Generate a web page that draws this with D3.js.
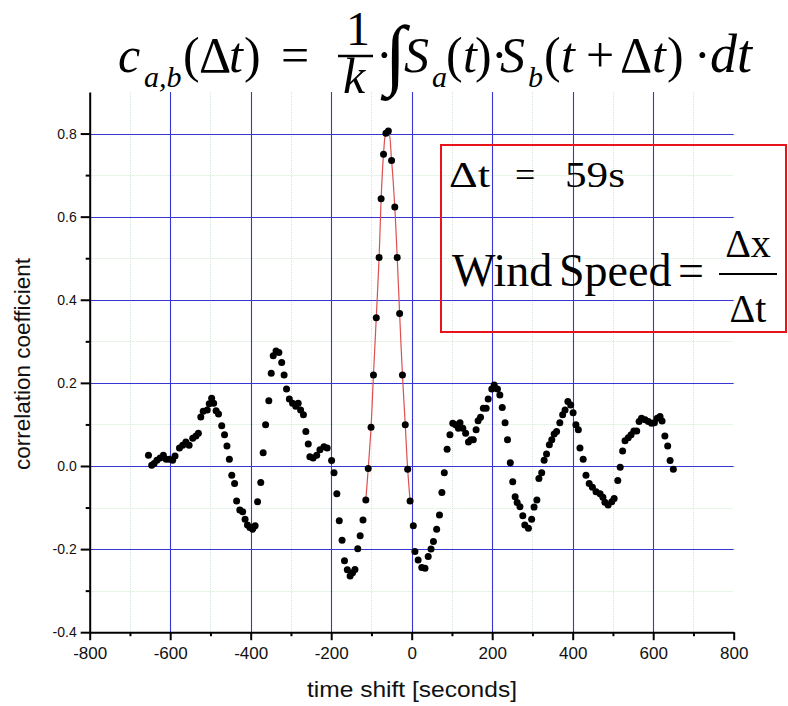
<!DOCTYPE html>
<html>
<head>
<meta charset="utf-8">
<script src="https://cdn.jsdelivr.net/npm/d3@7"></script>
<style>
  body { margin: 0; background: #fff; }
  svg { display: block; }
</style>
</head>
<body>
<div id="chart"></div>
<script>
// time shift [s] and correlation coefficient
const timeShift = [
  -654, -646, -640, -633, -625, -617, -610, -602, -594, -588,
  -577, -569, -561, -553, -544, -536, -530, -524, -518, -508,
  -503, -497, -492, -486, -480, -472, -465, -459, -453, -447,
  -440, -435, -427, -420, -414, -408, -402, -395, -389, -383,
  -375, -369, -363, -355, -349, -344, -337, -330, -323, -317,
  -311, -304, -296, -288, -282, -276, -269, -263, -257, -253,
  -245, -236, -228, -218, -210, -199, -193, -186, -180, -173,
  -167, -160, -153, -147, -141, -134, -128, -121, -114, -108,
  -101, -95, -88, -81, -76, -70, -64, -58, -50, -42,
  -36, -30, -23, -16, -10, -4, 4, 8, 16, 25,
  33, 41, 48, 54, 62, 69, 75, 81, 88, 95,
  102, 109, 116, 120, 127, 134, 141, 147, 153, 160,
  165, 171, 178, 185, 190, 199, 205, 213, 219, 225,
  232, 238, 245, 251, 257, 262, 269, 276, 281, 290,
  298, 304, 311, 316, 323, 329, 335, 342, 348, 354,
  360, 368, 375, 381, 388, 395, 401, 408, 414, 418,
  426, 433, 441, 449, 458, 468, 475, 480, 488, 497,
  503, 512, 518, 524, 530, 538, 545, 552, 559, 565,
  571, 580, 588, 596, 603, 610, 617, 622, 629, 636,
  642, 650
];
const correlation = [
  0.026, 0.002, 0.006, 0.014, 0.019, 0.026, 0.016, 0.016, 0.014, 0.024,
  0.043, 0.050, 0.058, 0.050, 0.067, 0.072, 0.079, 0.118, 0.132, 0.135,
  0.150, 0.163, 0.151, 0.133, 0.125, 0.097, 0.075, 0.048, 0.016, -0.022,
  -0.042, -0.084, -0.106, -0.110, -0.128, -0.142, -0.148, -0.152, -0.144, -0.086,
  -0.040, 0.032, 0.099, 0.157, 0.223, 0.265, 0.277, 0.273, 0.249, 0.219,
  0.185, 0.161, 0.151, 0.144, 0.151, 0.135, 0.123, 0.083, 0.053, 0.022,
  0.019, 0.026, 0.039, 0.046, 0.043, 0.013, -0.016, -0.067, -0.132, -0.179,
  -0.228, -0.250, -0.265, -0.257, -0.249, -0.199, -0.168, -0.130, -0.082, -0.006,
  0.093, 0.219, 0.357, 0.502, 0.643, 0.750, 0.801, 0.806, 0.735, 0.623,
  0.502, 0.367, 0.219, 0.099, -0.008, -0.084, -0.144, -0.206, -0.226, -0.244,
  -0.246, -0.218, -0.200, -0.182, -0.152, -0.118, -0.064, -0.016, 0.040, 0.075,
  0.103, 0.099, 0.091, 0.104, 0.091, 0.079, 0.058, 0.063, 0.063, 0.087,
  0.109, 0.117, 0.139, 0.139, 0.161, 0.185, 0.195, 0.185, 0.171, 0.141,
  0.104, 0.063, 0.008, -0.038, -0.074, -0.088, -0.098, -0.120, -0.142, -0.150,
  -0.128, -0.099, -0.082, -0.030, -0.016, 0.014, 0.029, 0.051, 0.063, 0.077,
  0.083, 0.104, 0.123, 0.135, 0.155, 0.147, 0.128, 0.099, 0.087, 0.043,
  0.016, -0.022, -0.042, -0.051, -0.062, -0.067, -0.075, -0.087, -0.094, -0.086,
  -0.078, -0.035, -0.003, 0.036, 0.061, 0.068, 0.075, 0.084, 0.084, 0.107,
  0.115, 0.111, 0.107, 0.103, 0.104, 0.115, 0.119, 0.108, 0.072, 0.048,
  0.013, -0.008
];
// the red fitted peak runs over these time shifts
const fitRange = [-114, -4];

const xMajor = [-800, -600, -400, -200, 0, 200, 400, 600, 800];
const xMinor = [-700, -500, -300, -100, 100, 300, 500, 700];
const yMajor = [-0.4, -0.2, 0.0, 0.2, 0.4, 0.6, 0.8];
const yMinor = [-0.3, -0.1, 0.1, 0.3, 0.5, 0.7];

const lagValue = "59s";

const W = 788, H = 706;
const svg = d3.select("#chart").append("svg")
  .attr("width", W).attr("height", H)
  .style("font-family", "'Liberation Sans', Arial, sans-serif");

const x = d3.scaleLinear().domain([-800, 800]).range([89.7, 733.7]);
const y = d3.scaleLinear().domain([-0.4, 0.9]).range([632.2, 92]);
const crisp = v => Math.round(v) + 0.5;

const data = timeShift.map((t, i) => ({ t: t, c: correlation[i] }));

// faint minor grid
svg.append("g").selectAll("line").data(xMinor).join("line")
  .attr("x1", d => crisp(x(d))).attr("x2", d => crisp(x(d)))
  .attr("y1", y(0.9)).attr("y2", y(-0.4))
  .attr("stroke", "#d6e6d6").attr("stroke-dasharray", "1,1");
svg.append("g").selectAll("line").data(yMinor).join("line")
  .attr("x1", x(-800)).attr("x2", x(800))
  .attr("y1", d => crisp(y(d))).attr("y2", d => crisp(y(d)))
  .attr("stroke", "#d6e6d6").attr("stroke-dasharray", "1,1");

// blue major grid
svg.append("g").selectAll("line").data(xMajor.filter(d => d > -800 && d < 800)).join("line")
  .attr("x1", d => crisp(x(d))).attr("x2", d => crisp(x(d)))
  .attr("y1", y(0.9)).attr("y2", y(-0.4))
  .attr("stroke", "#3636d4").attr("stroke-width", 1.1);
svg.append("g").selectAll("line").data(yMajor.filter(d => d > -0.4)).join("line")
  .attr("x1", x(-800)).attr("x2", x(800))
  .attr("y1", d => crisp(y(d))).attr("y2", d => crisp(y(d)))
  .attr("stroke", "#3636d4").attr("stroke-width", 1.1);

// axes
const xAxis = svg.append("g")
  .attr("transform", "translate(0," + y(-0.4) + ")")
  .call(d3.axisBottom(x).tickValues(xMajor).tickSize(8).tickSizeOuter(0).tickPadding(7)
    .tickFormat(d => String(d)));
xAxis.append("g")
  .call(d3.axisBottom(x).tickValues(xMinor).tickSize(4).tickFormat(""))
  .select(".domain").remove();

const yAxis = svg.append("g")
  .attr("transform", "translate(" + x(-800) + ",0)")
  .call(d3.axisLeft(y).tickValues(yMajor).tickSize(9).tickSizeOuter(0).tickPadding(4)
    .tickFormat(d => d.toFixed(1)));
yAxis.append("g")
  .call(d3.axisLeft(y).tickValues(yMinor).tickSize(4).tickFormat(""))
  .select(".domain").remove();

svg.selectAll(".domain").attr("stroke", "#000").attr("stroke-width", 2);
svg.selectAll(".tick line").attr("stroke", "#000").attr("stroke-width", 2);
xAxis.selectAll("text").style("font-size", "17px").attr("fill", "#111")
  .attr("font-family", "'Liberation Sans', Arial, sans-serif");
yAxis.selectAll("text").style("font-size", "14px").attr("fill", "#111")
  .attr("font-family", "'Liberation Sans', Arial, sans-serif");

// axis titles
svg.append("text")
  .attr("x", 412).attr("y", 697)
  .attr("text-anchor", "middle")
  .attr("font-size", 22).attr("fill", "#111")
  .attr("textLength", 210).attr("lengthAdjust", "spacingAndGlyphs")
  .text("time shift [seconds]");
svg.append("text")
  .attr("transform", "translate(30,364) rotate(-90)")
  .attr("text-anchor", "middle")
  .attr("font-size", 22).attr("fill", "#111")
  .attr("textLength", 212).attr("lengthAdjust", "spacingAndGlyphs")
  .text("correlation coefficient");

// red fitted curve over the peak
const fitData = data.filter(d => d.t >= fitRange[0] && d.t <= fitRange[1]);
svg.append("path")
  .datum(fitData)
  .attr("fill", "none")
  .attr("stroke", "#dc5050")
  .attr("stroke-width", 1.2)
  .attr("d", d3.line().x(d => x(d.t)).y(d => y(d.c)).curve(d3.curveCatmullRom.alpha(0.5)));

// data points
svg.append("g").selectAll("circle").data(data).join("circle")
  .attr("cx", d => x(d.t)).attr("cy", d => y(d.c))
  .attr("r", 3.5).attr("fill", "#000");

// formula at the top
const serif = "'Liberation Serif', 'Times New Roman', serif";
const formula = svg.append("g").attr("font-family", serif).attr("fill", "#000");
// [text, x, baseline, size, italic]
const parts = [
  ["c", 118, 72, 50, 1], ["a,b", 144, 87, 30, 1],
  ["(", 183, 72, 50, 0], ["\u0394", 199, 72, 50, 0], ["t", 229, 72, 50, 1], [")", 244, 72, 50, 0],
  ["=", 281, 72, 50, 0],
  ["1", 346, 45, 48, 0], ["k", 343, 93, 50, 1],
  ["\u00b7", 376, 72, 50, 0], ["\u222b", 385, 80, 78, 0],
  ["S", 404, 72, 50, 1], ["a", 432, 87, 30, 1],
  ["(", 446, 72, 50, 0], ["t", 463, 72, 50, 1], [")", 475, 72, 50, 0],
  ["\u00b7", 491, 72, 50, 0],
  ["S", 500, 72, 50, 1], ["b", 528, 87, 30, 1],
  ["(", 544, 72, 50, 0], ["t", 561, 72, 50, 1], ["+", 586, 72, 50, 0],
  ["\u0394", 620, 72, 50, 0], ["t", 652, 72, 50, 1], [")", 667, 72, 50, 0],
  ["\u00b7", 694, 72, 50, 0], ["dt", 710, 72, 54, 1]
];
parts.forEach(p => {
  formula.append("text")
    .attr("x", p[1]).attr("y", p[2])
    .attr("font-size", p[3])
    .attr("font-style", p[4] ? "italic" : "normal")
    .text(p[0]);
});
formula.append("line")
  .attr("x1", 338).attr("x2", 373).attr("y1", 56).attr("y2", 56)
  .attr("stroke", "#000").attr("stroke-width", 2.5);

// annotation box
svg.append("rect")
  .attr("x", 441).attr("y", 145).attr("width", 345).attr("height", 187)
  .attr("fill", "none").attr("stroke", "#e8141c").attr("stroke-width", 2);

const box = svg.append("g").attr("font-family", serif).attr("fill", "#000");
box.append("text").attr("x", 449).attr("y", 187).attr("font-size", 36)
  .attr("textLength", 41).attr("lengthAdjust", "spacingAndGlyphs").text("\u0394t");
box.append("text").attr("x", 515).attr("y", 187).attr("font-size", 36).text("=");
box.append("text").attr("x", 565).attr("y", 187).attr("font-size", 36)
  .attr("textLength", 60).attr("lengthAdjust", "spacingAndGlyphs").text(lagValue);
box.append("text").attr("x", 452).attr("y", 286).attr("font-size", 46).text("Wind");
box.append("text").attr("x", 559).attr("y", 286).attr("font-size", 46).text("Speed");
box.append("text").attr("x", 678).attr("y", 286).attr("font-size", 46).text("=");
box.append("line").attr("x1", 719).attr("x2", 777).attr("y1", 274).attr("y2", 274)
  .attr("stroke", "#000").attr("stroke-width", 2);
box.append("text").attr("x", 748).attr("y", 257).attr("font-size", 40)
  .attr("text-anchor", "middle").text("\u0394x");
box.append("text").attr("x", 748).attr("y", 322).attr("font-size", 40)
  .attr("text-anchor", "middle").text("\u0394t");
</script>
</body>
</html>
